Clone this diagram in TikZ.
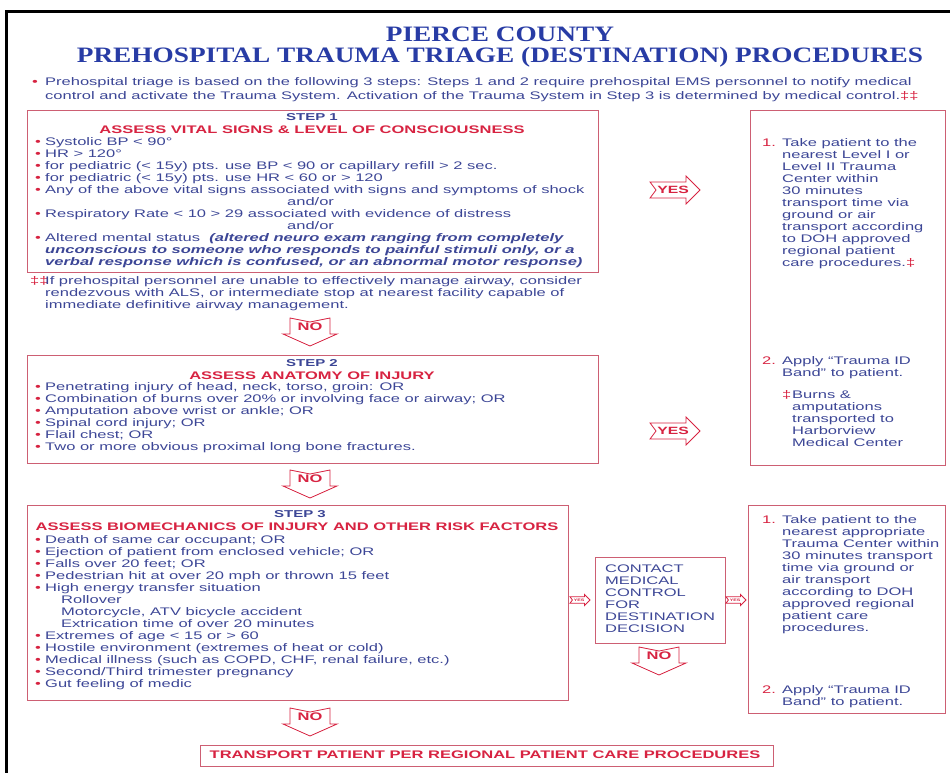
\documentclass[tikz,border=0pt]{standalone}
\usepackage{fontspec}
\setmainfont[FakeStretch=1.5]{Liberation Sans}
\newfontfamily\titlefont[FakeStretch=1.24]{Liberation Serif}
\usetikzlibrary{calc}

\definecolor{titleblue}{RGB}{40,60,165}
\definecolor{inkblue}{RGB}{60,70,150}
\definecolor{alarmred}{RGB}{215,35,65}
\definecolor{boxred}{RGB}{205,95,115}

\newcommand{\bul}{\makebox[10pt][l]{\textcolor{alarmred}{•}}}
\newcommand{\ind}{\makebox[10pt][l]{}}

\begin{document}
\begin{tikzpicture}[
  x=1pt, y=-1pt,
  boxframe/.style={draw=boxred, line width=0.8pt, anchor=north west, inner sep=0pt},
  listtext/.style={anchor=north west, inner sep=0pt, align=left, text=inkblue,
    font=\fontsize{11}{12}\selectfont},
  steplbl/.style={text=inkblue, font=\fontsize{10}{10}\selectfont\bfseries},
  riskhead/.style={text=alarmred, font=\fontsize{11}{12}\selectfont\bfseries},
  arrowline/.style={draw=alarmred, line width=0.8pt, fill=white},
  yeslbl/.style={text=alarmred, font=\fontsize{10.5}{11}\selectfont\bfseries},
  nolbl/.style={text=alarmred, font=\fontsize{11}{11}\selectfont\bfseries},
  yesarrow/.pic={\draw[arrowline] (-25,-8) -- (11,-8) -- (11,-14) -- (25,0) -- (11,14)
    -- (11,8) -- (-25,8) -- (-19,0) -- cycle;},
  noarrow/.pic={\draw[arrowline] (-20,-14) -- (0,-10) -- (20,-14) -- (20,2) -- (27,2)
    -- (0,14) -- (-27,2) -- (-20,2) -- cycle;}
]
\useasboundingbox (0,0) rectangle (950,773);

% Frame of the page
\draw[line width=3pt] (6,773) -- (6,12) -- (950,12);

% Title
\node[text=titleblue, font=\titlefont\fontsize{22}{24}\selectfont\bfseries] (title1) at (500,34) {PIERCE COUNTY};
\node[text=titleblue, font=\titlefont\fontsize{22}{24}\selectfont\bfseries] (title2) at (500,57)
  {PREHOSPITAL TRAUMA TRIAGE (DESTINATION) PROCEDURES};

% Intro
\node[listtext, font=\fontsize{11}{14}\selectfont] (intro) at (32,77)
  {\makebox[13pt][l]{\textcolor{alarmred}{•}}Prehospital triage is based on the following 3 steps: Steps 1 and 2 require prehospital EMS personnel to notify medical\\
   \makebox[13pt][l]{}control and activate the Trauma System. Activation of the Trauma System in Step 3 is determined by medical control.\textcolor{alarmred}{‡‡}};

% Boxes
\node[boxframe, minimum width=571, minimum height=162] (step1) at (27,110) {};
\node[boxframe, minimum width=571, minimum height=108] (step2) at (27,355) {};
\node[boxframe, minimum width=541, minimum height=195] (step3) at (27,505) {};
\node[boxframe, minimum width=195, minimum height=355] (dest1) at (750,110) {};
\node[boxframe, minimum width=197, minimum height=208] (dest2) at (748,505) {};
\node[boxframe, minimum width=130, minimum height=86] (contact) at (595,557) {};
\node[boxframe, minimum width=573, minimum height=21] (final) at (200,745) {};

% Step 1
\node[steplbl] (s1lbl) at (312,117) {STEP 1};
\node[riskhead] (s1head) at (312,130) {ASSESS VITAL SIGNS \& LEVEL OF CONSCIOUSNESS};
\node[listtext] (s1list) at (35,137)
  {\bul Systolic BP < 90°\\
   \bul HR > 120°\\
   \bul for pediatric (< 15y) pts. use BP < 90 or capillary refill > 2 sec.\\
   \bul for pediatric (< 15y) pts. use HR < 60 or > 120\\
   \bul Any of the above vital signs associated with signs and symptoms of shock\\
   \hspace*{252pt}and/or\\
   \bul Respiratory Rate < 10 > 29 associated with evidence of distress\\
   \hspace*{252pt}and/or\\
   \bul Altered mental status \ \textbf{\textit{(altered neuro exam ranging from completely}}\\
   \ind\textbf{\textit{unconscious to someone who responds to painful stimuli only, or a}}\\
   \ind\textbf{\textit{verbal response which is confused, or an abnormal motor response)}}};
\node[listtext] (airway) at (30,276)
  {\makebox[15pt][l]{\textcolor{alarmred}{‡‡}}If prehospital personnel are unable to effectively manage airway, consider\\
   \makebox[15pt][l]{}rendezvous with ALS, or intermediate stop at nearest facility capable of\\
   \makebox[15pt][l]{}immediate definitive airway management.};

% Step 2
\node[steplbl] (s2lbl) at (312,363) {STEP 2};
\node[riskhead] (s2head) at (312,376) {ASSESS ANATOMY OF INJURY};
\node[listtext] (s2list) at (35,382)
  {\bul Penetrating injury of head, neck, torso, groin: OR\\
   \bul Combination of burns over 20\% or involving face or airway; OR\\
   \bul Amputation above wrist or ankle; OR\\
   \bul Spinal cord injury; OR\\
   \bul Flail chest; OR\\
   \bul Two or more obvious proximal long bone fractures.};

% Step 3
\node[steplbl] (s3lbl) at (300,514) {STEP 3};
\node[riskhead] (s3head) at (297,527) {ASSESS BIOMECHANICS OF INJURY AND OTHER RISK FACTORS};
\node[listtext] (s3list) at (35,535)
  {\bul Death of same car occupant; OR\\
   \bul Ejection of patient from enclosed vehicle; OR\\
   \bul Falls over 20 feet; OR\\
   \bul Pedestrian hit at over 20 mph or thrown 15 feet\\
   \bul High energy transfer situation\\
   \ind\hspace*{16pt}Rollover\\
   \ind\hspace*{16pt}Motorcycle, ATV bicycle accident\\
   \ind\hspace*{16pt}Extrication time of over 20 minutes\\
   \bul Extremes of age < 15 or > 60\\
   \bul Hostile environment (extremes of heat or cold)\\
   \bul Medical illness (such as COPD, CHF, renal failure, etc.)\\
   \bul Second/Third trimester pregnancy\\
   \bul Gut feeling of medic};

% Destination (Steps 1 and 2)
\node[listtext] (d1take) at (762,138)
  {\makebox[20pt][l]{\textcolor{alarmred}{1.}}Take patient to the\\
   \makebox[20pt][l]{}nearest Level I or\\
   \makebox[20pt][l]{}Level II Trauma\\
   \makebox[20pt][l]{}Center within\\
   \makebox[20pt][l]{}30 minutes\\
   \makebox[20pt][l]{}transport time via\\
   \makebox[20pt][l]{}ground or air\\
   \makebox[20pt][l]{}transport according\\
   \makebox[20pt][l]{}to DOH approved\\
   \makebox[20pt][l]{}regional patient\\
   \makebox[20pt][l]{}care procedures.\textcolor{alarmred}{‡}};
\node[listtext] (d1band) at (762,356)
  {\makebox[20pt][l]{\textcolor{alarmred}{2.}}Apply “Trauma ID\\
   \makebox[20pt][l]{}Band” to patient.};
\node[listtext] (d1burn) at (782,390)
  {\makebox[10pt][l]{\textcolor{alarmred}{‡}}Burns \&\\
   \makebox[10pt][l]{}amputations\\
   \makebox[10pt][l]{}transported to\\
   \makebox[10pt][l]{}Harborview\\
   \makebox[10pt][l]{}Medical Center};

% Medical control (Step 3)
\node[listtext] (ctext) at (605,565)
  {CONTACT\\ MEDICAL\\ CONTROL\\ FOR\\ DESTINATION\\ DECISION};

\node[listtext] (d2take) at (762,515)
  {\makebox[20pt][l]{\textcolor{alarmred}{1.}}Take patient to the\\
   \makebox[20pt][l]{}nearest appropriate\\
   \makebox[20pt][l]{}Trauma Center within\\
   \makebox[20pt][l]{}30 minutes transport\\
   \makebox[20pt][l]{}time via ground or\\
   \makebox[20pt][l]{}air transport\\
   \makebox[20pt][l]{}according to DOH\\
   \makebox[20pt][l]{}approved regional\\
   \makebox[20pt][l]{}patient care\\
   \makebox[20pt][l]{}procedures.};
\node[listtext] (d2band) at (762,685)
  {\makebox[20pt][l]{\textcolor{alarmred}{2.}}Apply “Trauma ID\\
   \makebox[20pt][l]{}Band” to patient.};

% Final
\node[riskhead] (ftext) at (485,755) {TRANSPORT PATIENT PER REGIONAL PATIENT CARE PROCEDURES};

% YES / NO arrows
\pic at (675,190) {yesarrow};
\node[yeslbl] (yes1) at (673,190) {YES};
\pic at (675,431) {yesarrow};
\node[yeslbl] (yes2) at (673,431) {YES};
\pic[scale=0.4] at (580,600) {yesarrow};
\node[yeslbl, font=\fontsize{3.5}{4}\selectfont\bfseries] (yes3) at (579,600) {YES};
\pic[scale=0.4] at (736,600) {yesarrow};
\node[yeslbl, font=\fontsize{3.5}{4}\selectfont\bfseries] (yes4) at (735,600) {YES};

\pic at (310,332) {noarrow};
\node[nolbl] (no1) at (310,327) {NO};
\pic at (310,484) {noarrow};
\node[nolbl] (no2) at (310,479) {NO};
\pic at (310,722) {noarrow};
\node[nolbl] (no3) at (310,717) {NO};
\pic at (659,661) {noarrow};
\node[nolbl] (no4) at (659,656) {NO};

\end{tikzpicture}
\end{document}
